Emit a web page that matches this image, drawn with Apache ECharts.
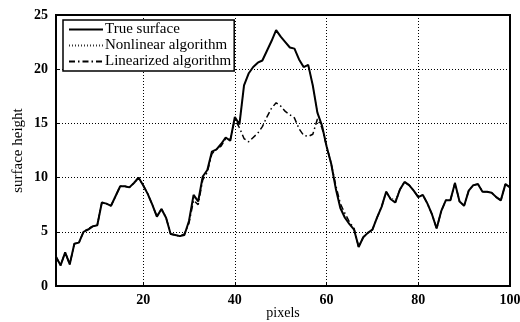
<!DOCTYPE html>
<html>
<head>
<meta charset="utf-8">
<script src="https://cdn.jsdelivr.net/npm/echarts@6/dist/echarts.min.js"></script>
<style>
  html, body { margin: 0; padding: 0; background: #fff; }
  #chart { width: 520px; height: 322px; }
</style>
</head>
<body>
<div id="chart"></div>
<script>
// pixel positions 1..100
const pixels = Array.from({ length: 100 }, (_, i) => i + 1)

const trueSurface = [
  2.7, 1.9, 3.1, 2.0, 3.9, 4.0, 5.0, 5.2, 5.5, 5.6,
  7.7, 7.6, 7.4, 8.3, 9.2, 9.2, 9.1, 9.5, 10.0, 9.3,
  8.5, 7.5, 6.4, 7.1, 6.3, 4.8, 4.7, 4.6, 4.7, 6.0,
  8.4, 7.8, 10.1, 10.7, 12.4, 12.6, 13.1, 13.7, 13.4, 15.6,
  14.9, 18.5, 19.6, 20.2, 20.6, 20.8, 21.7, 22.6, 23.6, 23.0,
  22.5, 22.0, 21.9, 20.9, 20.2, 20.4, 18.5, 16.0, 14.8, 12.9,
  11.3, 9.0, 7.2, 6.3, 5.7, 5.2, 3.6, 4.5, 4.9, 5.2,
  6.3, 7.3, 8.7, 8.0, 7.7, 8.9, 9.6, 9.3, 8.8, 8.2,
  8.4, 7.6, 6.6, 5.3, 6.9, 7.9, 7.9, 9.5, 7.8, 7.4,
  8.8, 9.3, 9.4, 8.7, 8.7, 8.6, 8.2, 7.9, 9.4, 9.1
]

const nonlinear = [
  2.7, 1.9, 3.1, 2.0, 3.9, 4.0, 5.0, 5.3, 5.5, 5.6,
  7.7, 7.6, 7.4, 8.3, 9.2, 9.2, 9.1, 9.5, 10.0, 9.3,
  8.5, 7.5, 6.4, 7.1, 6.3, 4.8, 4.7, 4.6, 4.7, 6.0,
  8.2, 7.8, 10.0, 10.7, 12.3, 12.6, 13.0, 13.7, 13.4, 15.5,
  14.9, 18.5, 19.6, 20.2, 20.6, 20.8, 21.7, 22.6, 23.6, 23.0,
  22.5, 22.0, 21.9, 20.9, 20.2, 20.4, 18.5, 16.0, 14.8, 12.9,
  11.3, 9.1, 7.3, 6.4, 5.7, 5.2, 3.6, 4.5, 4.9, 5.2,
  6.3, 7.3, 8.7, 8.1, 8.0, 8.9, 9.6, 9.3, 8.8, 8.2,
  8.4, 7.6, 6.6, 5.3, 6.9, 7.9, 7.9, 9.5, 7.8, 7.4,
  8.8, 9.3, 9.4, 8.7, 8.7, 8.6, 8.2, 7.9, 9.4, 9.1
]

const linearized = [
  2.7, 1.9, 3.1, 2.0, 3.9, 4.0, 5.0, 5.3, 5.5, 5.6,
  7.7, 7.6, 7.4, 8.3, 9.2, 9.2, 9.1, 9.5, 10.0, 9.3,
  8.5, 7.5, 6.4, 7.1, 6.3, 4.8, 4.7, 4.6, 4.8, 5.8,
  7.9, 7.5, 9.8, 10.5, 12.2, 12.6, 12.9, 13.6, 13.5, 15.4,
  14.6, 13.6, 13.3, 13.7, 14.1, 14.7, 15.6, 16.4, 16.9, 16.6,
  16.1, 15.8, 15.5, 14.5, 13.9, 13.8, 14.0, 15.4, 14.6, 12.9,
  11.3, 9.3, 7.6, 6.7, 5.9, 5.3, 3.6, 4.5, 4.9, 5.2,
  6.3, 7.3, 8.7, 8.0, 7.7, 8.9, 9.6, 9.3, 8.8, 8.2,
  8.4, 7.6, 6.6, 5.3, 6.9, 7.9, 7.9, 9.5, 7.8, 7.4,
  8.8, 9.3, 9.4, 8.7, 8.7, 8.6, 8.2, 7.9, 9.4, 9.1
]

const xTicks = [20, 40, 60, 80, 100]
const seriesNames = ['True surface', 'Nonlinear algorithm', 'Linearized algorithm']

const pairs = (ys) => pixels.map((x, i) => [x, ys[i]])

const font = 'Liberation Serif'
const chart = echarts.init(document.getElementById('chart'), null, { renderer: 'canvas' })

const option = {
  animation: false,
  backgroundColor: '#fff',
  color: ['#000', '#333', '#000'],
  textStyle: { fontFamily: font, color: '#000' },
  grid: {
    left: 56,
    right: 10,
    top: 15,
    bottom: 36,
    outerBoundsMode: 'none',
    show: true,
    borderColor: '#000',
    borderWidth: 2
  },
  legend: {
    data: seriesNames,
    orient: 'vertical',
    left: 63,
    top: 20,
    backgroundColor: '#fff',
    borderColor: '#000',
    borderWidth: 1.5,
    borderRadius: 0,
    padding: [2, 3, 2, 5],
    itemGap: 1,
    itemWidth: 34,
    itemHeight: 14,
    itemStyle: { opacity: 0 },
    textStyle: { fontFamily: font, fontSize: 15, lineHeight: 15, color: '#000', padding: [0, 0, 0, -3] }
  },
  xAxis: {
    type: 'value',
    min: 1,
    max: 100,
    name: 'pixels',
    nameLocation: 'middle',
    nameGap: 20,
    nameMoveOverlap: false,
    nameTextStyle: { fontFamily: font, fontSize: 14, color: '#000' },
    axisLine: { show: true, lineStyle: { color: '#000', width: 2 } },
    axisTick: { show: true, inside: true, length: 3, customValues: xTicks, lineStyle: { color: '#000' } },
    axisLabel: { customValues: xTicks, fontFamily: font, fontSize: 14, color: '#000', margin: 7, fontWeight: 'bold' },
    splitLine: { show: true, lineStyle: { color: '#000', type: [1, 2], width: 1 } }
  },
  yAxis: {
    type: 'value',
    min: 0,
    max: 25,
    interval: 5,
    name: 'surface height',
    nameLocation: 'middle',
    nameGap: 30,
    nameMoveOverlap: false,
    nameTextStyle: { fontFamily: font, fontSize: 15, color: '#000' },
    axisLine: { show: true, lineStyle: { color: '#000', width: 2 } },
    axisTick: { show: true, inside: true, length: 3, lineStyle: { color: '#000' } },
    axisLabel: { fontFamily: font, fontSize: 14, color: '#000', margin: 8, fontWeight: 'bold' },
    splitLine: { show: true, lineStyle: { color: '#000', type: [1, 2], width: 1 } }
  },
  series: [
    {
      name: seriesNames[0],
      type: 'line',
      data: pairs(trueSurface),
      showSymbol: false,
      symbol: 'none',
      z: 4,
      lineStyle: { color: '#000', width: 2 }
    },
    {
      name: seriesNames[1],
      type: 'line',
      data: pairs(nonlinear),
      showSymbol: false,
      symbol: 'none',
      z: 3,
      lineStyle: { color: '#333', width: 1, type: [1, 2] }
    },
    {
      name: seriesNames[2],
      type: 'line',
      data: pairs(linearized),
      showSymbol: false,
      symbol: 'none',
      z: 3,
      lineStyle: { color: '#000', width: 1.5, type: [6, 3, 1.5, 3] }
    }
  ]
}

chart.setOption(option)
</script>
</body>
</html>
